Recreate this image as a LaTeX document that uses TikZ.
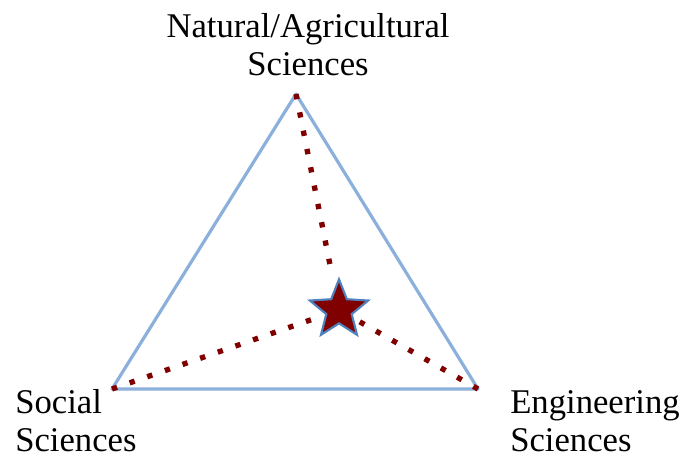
\documentclass[tikz,border=0pt]{standalone}
\usepackage{fontspec}
\setmainfont{Liberation Serif}
\usetikzlibrary{shapes.geometric}
\definecolor{triblue}{RGB}{140,176,220}
\definecolor{starblue}{RGB}{79,129,189}
\definecolor{darkred}{RGB}{128,0,0}

\begin{document}
\begin{tikzpicture}[x=0.75pt,y=-0.75pt]
    \tikzstyle{side}=[line width=2.4pt,color=triblue,line join=round]
    \tikzstyle{link}=[line width=4pt,color=darkred,dash pattern=on 4pt off 10pt]
    \tikzstyle{label}=[font=\fontsize{26}{28.5}\selectfont,inner sep=0pt]
    \useasboundingbox (0,0) rectangle (688,458);
    % Corners
    \coordinate (nat) at (296,94);
    \coordinate (soc) at (112,389);
    \coordinate (eng) at (478,389);
    % Triangle
    \draw[side] (nat) -- (eng) -- (soc) -- cycle;
    % Star
    \node[star,star points=5,star point ratio=2.3,minimum size=46pt,inner sep=0pt,
        fill=darkred,draw=starblue,line width=1.6pt] (hub) at (339,310) {};
    % Links
    \draw[link,shorten >=16pt] (nat) -- (hub);
    \draw[link,shorten >=5pt] (soc) -- (hub);
    \draw[link,shorten >=4pt] (eng) -- (hub);
    % Labels
    \node[label,align=center,anchor=base] (natlab) at (308,75) {Natural/Agricultural\\Sciences};
    \node[label,align=left,anchor=base west] (soclab) at (15,451) {Social\\Sciences};
    \node[label,align=left,anchor=base west] (englab) at (510,451) {Engineering\\Sciences};
\end{tikzpicture}
\end{document}
